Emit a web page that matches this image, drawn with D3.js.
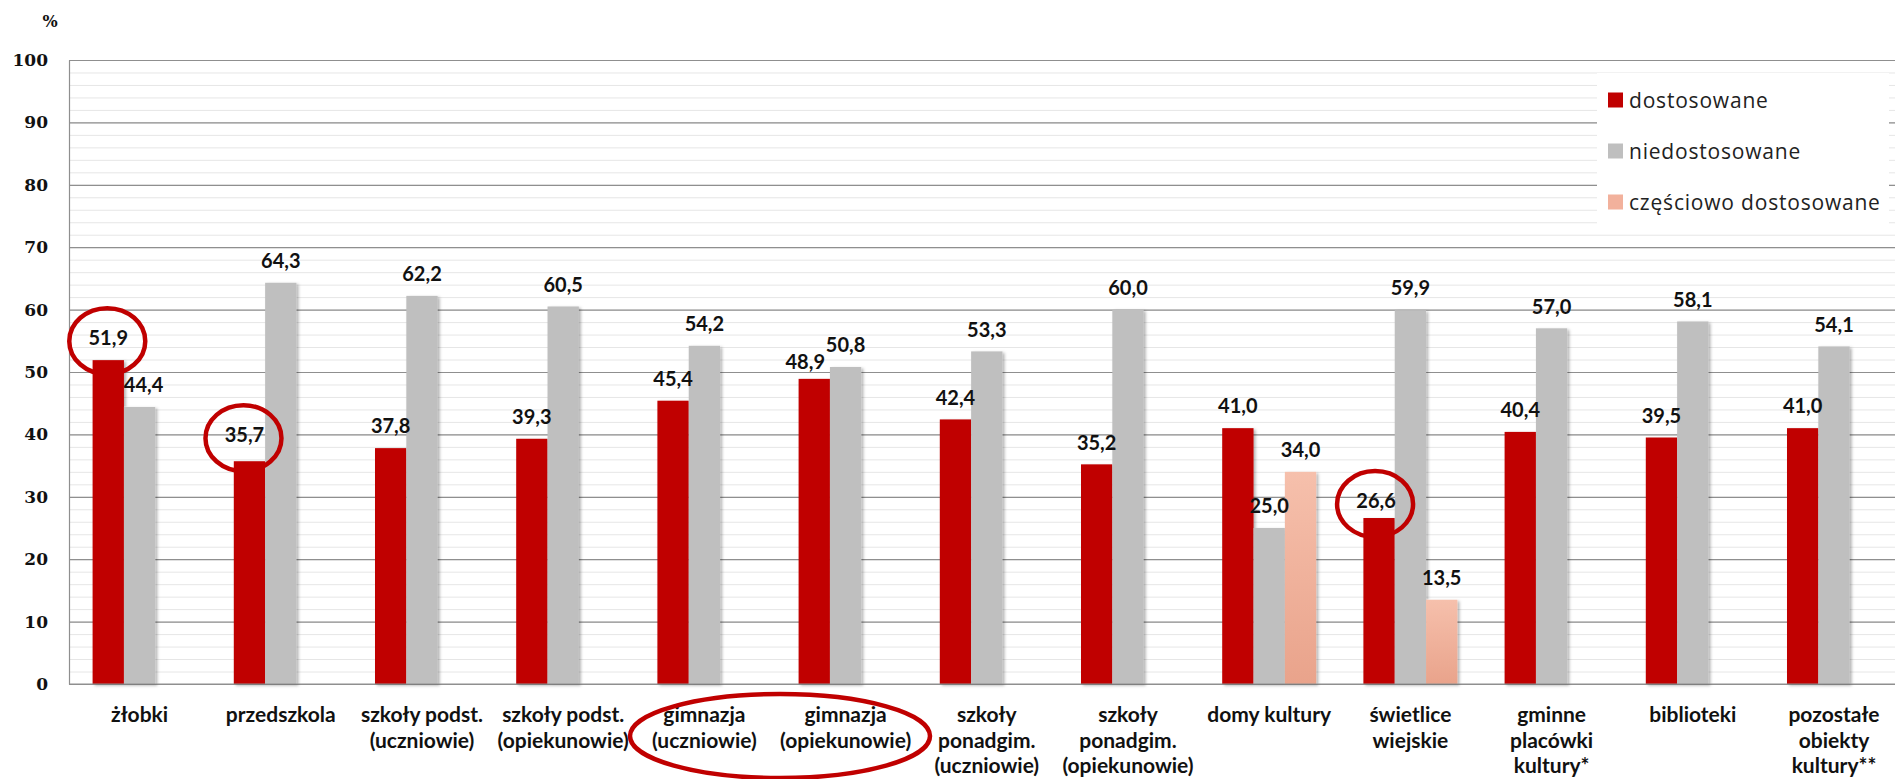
<!DOCTYPE html>
<html>
<head>
<meta charset="utf-8">
<script src="https://cdn.jsdelivr.net/npm/d3@7"></script>
<style>
  body { margin: 0; background: #fff; }
  svg { display: block; }
</style>
</head>
<body>
<svg id="chart" width="1895" height="779"></svg>
<script>
// ---- data ----
const categories = [
  "żłobki", "przedszkola", "szkoły podst.|(uczniowie)", "szkoły podst.|(opiekunowie)",
  "gimnazja|(uczniowie)", "gimnazja|(opiekunowie)", "szkoły|ponadgim.|(uczniowie)",
  "szkoły|ponadgim.|(opiekunowie)", "domy kultury", "świetlice|wiejskie",
  "gminne|placówki|kultury*", "biblioteki", "pozostałe|obiekty|kultury**"
];
const seriesNames = ["dostosowane", "niedostosowane", "częściowo dostosowane"];
const dostosowane   = [51.9, 35.7, 37.8, 39.3, 45.4, 48.9, 42.4, 35.2, 41.0, 26.6, 40.4, 39.5, 41.0];
const niedostosowane = [44.4, 64.3, 62.2, 60.5, 54.2, 50.8, 53.3, 60.0, 25.0, 59.9, 57.0, 58.1, 54.1];
const czesciowo     = [null, null, null, null, null, null, null, null, 34.0, 13.5, null, null, null];
const yTicks = [0, 10, 20, 30, 40, 50, 60, 70, 80, 90, 100];
const yMinorTicks = d3.range(0, 101, 2);
const highlighted = [[0, 0], [1, 0], [9, 0]]; // [category, series] circled labels
const highlightedGroup = [4, 5];              // circled category labels

// ---- layout ----
const svg = d3.select("#chart");
const plotLeft = 69, plotTop = 60, plotBottom = 684, band = 141.2;
const plotRight = plotLeft + band * categories.length;
const colors = ["#C00000", "#BFBFBF", "url(#peachGrad)"];
const fmt = v => d3.format(".1f")(v).replace(".", ",");

const defs = svg.append("defs");
const grad = defs.append("linearGradient").attr("id", "peachGrad").attr("x1", 0).attr("y1", 0).attr("x2", 0).attr("y2", 1);
grad.append("stop").attr("offset", "0%").attr("stop-color", "#F6C0AC");
grad.append("stop").attr("offset", "100%").attr("stop-color", "#E9A38B");
const filt = defs.append("filter").attr("id", "shadow").attr("x", "-20%").attr("y", "-5%").attr("width", "150%").attr("height", "115%");
filt.append("feDropShadow").attr("dx", 2).attr("dy", 1.5).attr("stdDeviation", 1.6)
  .attr("flood-color", "#000").attr("flood-opacity", 0.3);

const y = d3.scaleLinear().domain([0, 100]).range([plotBottom, plotTop]);
const x0 = d3.scaleBand().domain(d3.range(categories.length)).range([plotLeft, plotRight]).padding(0);
const x1 = d3.scaleBand().domain([0, 1, 2]).range([23.6, band - 23.6]).padding(0);

// minor gridlines
svg.append("g").attr("transform", `translate(${plotLeft},0)`)
  .call(d3.axisLeft(y).tickValues(yMinorTicks).tickSize(-(1895 - plotLeft)).tickFormat(""))
  .call(a => a.select(".domain").remove())
  .call(a => a.selectAll("line").attr("stroke", "#e6e6e6").attr("stroke-width", 1));

// major gridlines
svg.append("g").attr("transform", `translate(${plotLeft},0)`)
  .call(d3.axisLeft(y).tickValues(yTicks).tickSize(-(1895 - plotLeft)).tickFormat(""))
  .call(a => a.select(".domain").remove())
  .call(a => a.selectAll("line").attr("stroke", "#8f8f8f").attr("stroke-width", 1.2));

// y axis labels
svg.append("g").attr("transform", `translate(${plotLeft},0)`)
  .call(d3.axisLeft(y).tickValues(yTicks).tickSize(0).tickPadding(21))
  .call(a => a.select(".domain").attr("stroke", "#8f8f8f").attr("stroke-width", 1.2))
  .call(a => a.selectAll("text").attr("font-family", "DejaVu Serif").attr("font-weight", "bold")
    .attr("font-size", 17).attr("fill", "#111"));

svg.append("text").attr("x", 50).attr("y", 27).attr("text-anchor", "middle")
  .attr("font-family", "DejaVu Serif").attr("font-weight", "bold").attr("font-size", 16)
  .attr("fill", "#111").text("%");

// bars
const series = [dostosowane, niedostosowane, czesciowo];
const rows = [];
series.forEach((arr, s) => arr.forEach((v, i) => { if (v != null) rows.push({ i, s, v }); }));

svg.append("g").attr("filter", "url(#shadow)")
  .selectAll("rect").data(rows).join("rect")
  .attr("x", d => x0(d.i) + x1(d.s))
  .attr("width", x1.bandwidth())
  .attr("y", d => y(d.v))
  .attr("height", d => y(0) - y(d.v))
  .attr("fill", d => colors[d.s]);

// x axis line
svg.append("line").attr("x1", plotLeft).attr("x2", 1895).attr("y1", plotBottom).attr("y2", plotBottom)
  .attr("stroke", "#8f8f8f").attr("stroke-width", 1.2);

// value labels
const nudge = { "5-0": [-9, 5], "0-1": [4, 0], "1-0": [-5, -4], "9-0": [-3, 5] };
const labelPos = d => {
  const n = nudge[d.i + "-" + d.s] || [0, 0];
  return [x0(d.i) + x1(d.s) + x1.bandwidth() / 2 + n[0], y(d.v) - 22 + n[1]];
};
svg.append("g").selectAll("text").data(rows).join("text")
  .attr("x", d => labelPos(d)[0])
  .attr("y", d => labelPos(d)[1])
  .attr("dy", "0.36em")
  .attr("text-anchor", "middle")
  .attr("font-family", "Lato").attr("font-weight", "bold").attr("font-size", 20)
  .attr("fill", "#111")
  .text(d => fmt(d.v));

// category labels
const cat = svg.append("g");
categories.forEach((c, i) => {
  const t = cat.append("text").attr("text-anchor", "middle")
    .attr("font-family", "Lato").attr("font-weight", "bold").attr("font-size", 21)
    .attr("fill", "#111");
  c.split("|").forEach((line, k) => {
    t.append("tspan").attr("x", x0(i) + band / 2).attr("y", 722 + k * 25.5).text(line);
  });
});

// legend
const lg = svg.append("g");
lg.append("rect").attr("x", 1597).attr("y", 73).attr("width", 292).attr("height", 160).attr("fill", "#fff");
seriesNames.forEach((name, k) => {
  const cy = 100 + k * 51;
  lg.append("rect").attr("x", 1608).attr("y", cy - 7.5).attr("width", 15).attr("height", 15)
    .attr("fill", k === 2 ? "#F2B19C" : colors[k]);
  lg.append("text").attr("x", 1629).attr("y", cy).attr("dy", "0.36em")
    .attr("font-family", "Open Sans").attr("font-size", 21).attr("letter-spacing", 0.8)
    .attr("fill", "#222").text(name);
});

// highlight ellipses
const ann = svg.append("g").attr("fill", "none").attr("stroke", "#C00000").attr("stroke-width", 4.5);
highlighted.forEach(([i, s]) => {
  const d = rows.find(r => r.i === i && r.s === s);
  const [cx, cy] = labelPos(d);
  ann.append("ellipse").attr("cx", cx - 1).attr("cy", cy + 3).attr("rx", 38).attr("ry", 33);
});
const gcx = (x0(highlightedGroup[0]) + x0(highlightedGroup[1]) + band) / 2;
ann.append("ellipse").attr("cx", gcx + 5).attr("cy", 736).attr("rx", 150).attr("ry", 42);
</script>
</body>
</html>
